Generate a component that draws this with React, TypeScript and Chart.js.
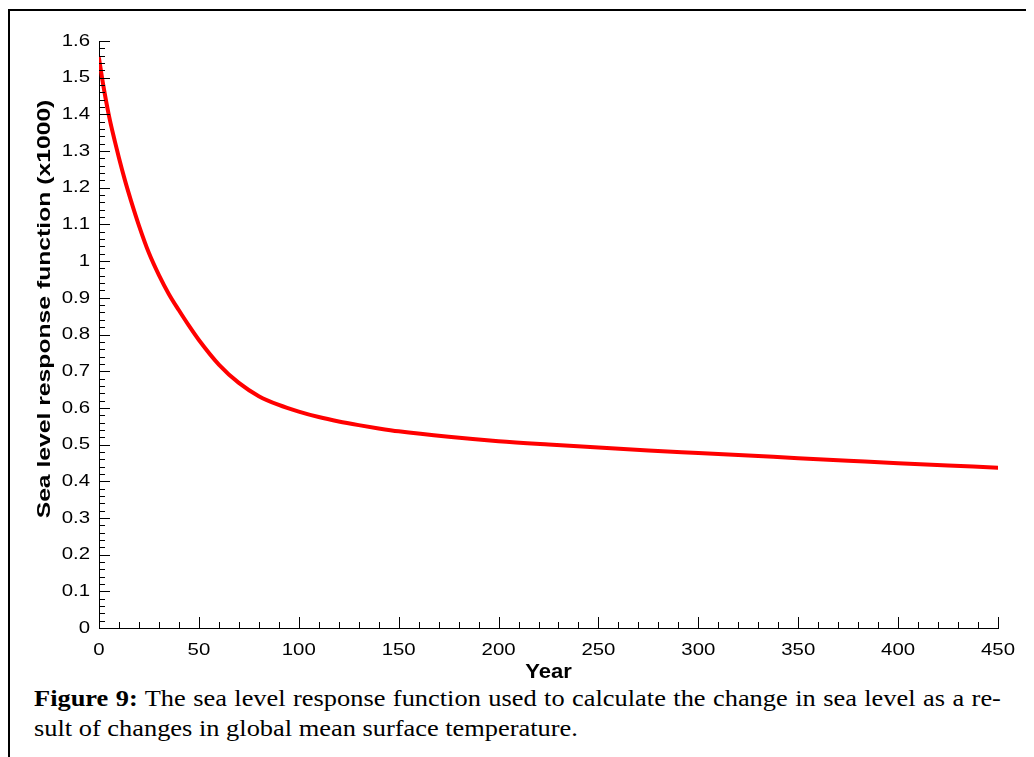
import React, { useEffect, useRef } from "react";
import { Chart, registerables } from "chart.js";

Chart.register(...registerables);

const years = [0, 2, 5, 8, 10, 13, 16, 20, 25, 30, 35, 40, 45, 50, 60, 70, 80, 90, 100, 110, 120, 130, 140, 150, 175, 200, 225, 250, 275, 300, 325, 350, 375, 400, 425, 450];
const responseValues = [1.553, 1.484, 1.396, 1.325, 1.281, 1.22, 1.165, 1.097, 1.022, 0.962, 0.91, 0.866, 0.824, 0.785, 0.718, 0.668, 0.632, 0.608, 0.59, 0.575, 0.563, 0.553, 0.544, 0.536, 0.521, 0.509, 0.5, 0.492, 0.484, 0.477, 0.47, 0.463, 0.456, 0.449, 0.443, 0.437];

const yTitle = "Sea level response function (x1000)";
const xTitle = "Year";
const xMin = 0, xMax = 450, xMajor = 50, xMinor = 10;
const yMin = 0, yMax = 1.6, yMajor = 0.1, yMinor = 0.02;

const FONT = "'Liberation Sans', Arial, sans-serif";
const TICK_STRETCH = 1.2;

function fmt(v: number) {
  return String(Math.round(v * 10) / 10);
}

const axisDecor = {
  id: "axisDecor",
  afterDraw(chart: any) {
    const ctx = chart.ctx;
    const xs = chart.scales.x;
    const ys = chart.scales.y;
    const ca = chart.chartArea;
    ctx.save();
    ctx.strokeStyle = "#000";
    ctx.lineWidth = 1;
    ctx.beginPath();
    const ny = Math.round((yMax - yMin) / yMinor);
    const yEvery = Math.round(yMajor / yMinor);
    for (let i = 0; i <= ny; i++) {
      const v = yMin + i * yMinor;
      const py = Math.round(ys.getPixelForValue(v)) + 0.5;
      const len = i % yEvery === 0 ? 11 : 6;
      ctx.moveTo(ca.left, py);
      ctx.lineTo(ca.left + len, py);
    }
    const nx = Math.round((xMax - xMin) / xMinor);
    const xEvery = Math.round(xMajor / xMinor);
    for (let i = 0; i <= nx; i++) {
      const v = xMin + i * xMinor;
      const px = Math.round(xs.getPixelForValue(v)) + 0.5;
      const len = i % xEvery === 0 ? 11 : 6;
      ctx.moveTo(px, ca.bottom);
      ctx.lineTo(px, ca.bottom - len);
    }
    ctx.stroke();

    ctx.fillStyle = "#000";
    ctx.font = `17px ${FONT}`;
    ctx.textAlign = "right";
    ctx.textBaseline = "middle";
    for (const t of ys.ticks) {
      const py = ys.getPixelForValue(t.value);
      ctx.save();
      ctx.translate(ca.left - 9, py);
      ctx.scale(TICK_STRETCH, 1);
      ctx.fillText(fmt(t.value), 0, 0);
      ctx.restore();
    }
    ctx.textAlign = "center";
    ctx.textBaseline = "alphabetic";
    for (const t of xs.ticks) {
      const px = xs.getPixelForValue(t.value);
      ctx.save();
      ctx.translate(px, ca.bottom + 27);
      ctx.scale(TICK_STRETCH, 1);
      ctx.fillText(String(Math.round(t.value)), 0, 0);
      ctx.restore();
    }

    ctx.font = `bold 21px ${FONT}`;
    ctx.save();
    ctx.translate((ca.left + ca.right) / 2, 667);
    ctx.scale(1.05, 1);
    ctx.fillText(xTitle, 0, 0);
    ctx.restore();

    ctx.save();
    ctx.translate(40, 298);
    ctx.rotate(-Math.PI / 2);
    ctx.scale(1.3, 1);
    ctx.font = `bold 19px ${FONT}`;
    ctx.fillText(yTitle, 0, 0);
    ctx.restore();
    ctx.restore();
  },
};

function ChartView() {
  const ref = useRef<HTMLCanvasElement>(null);
  useEffect(() => {
    document.documentElement.style.overflow = "hidden";
    const canvas = ref.current!;
    const chart = new Chart(canvas, {
      type: "line",
      data: {
        datasets: [
          {
            data: years.map((x, i) => ({ x, y: responseValues[i] })),
            borderColor: "#ff0000",
            borderWidth: 4,
            pointRadius: 0,
            fill: false,
            cubicInterpolationMode: "monotone",
            borderCapStyle: "round",
            borderJoinStyle: "round",
          },
        ],
      },
      options: {
        responsive: false,
        animation: false,
        events: [],
        layout: { padding: { top: 30, right: 36, left: 0, bottom: 0 } },
        plugins: { legend: { display: false }, tooltip: { enabled: false }, title: { display: false } },
        scales: {
          x: {
            type: "linear",
            min: xMin,
            max: xMax,
            grid: { display: false, drawTicks: false },
            border: { display: true, color: "#000", width: 1 },
            ticks: { stepSize: xMajor, display: false },
            afterFit: (s: any) => {
              s.height = 53;
            },
          },
          y: {
            type: "linear",
            min: yMin,
            max: yMax,
            grid: { display: false, drawTicks: false },
            border: { display: true, color: "#000", width: 1 },
            ticks: { stepSize: yMajor, display: false },
            afterFit: (s: any) => {
              s.width = 89;
            },
          },
        },
      },
      plugins: [axisDecor],
    } as any);
    return () => chart.destroy();
  }, []);
  return <canvas ref={ref} width={1024} height={670} style={{ display: "block" }} />;
}

export default function App() {
  return (
    <div
      style={{
        marginTop: 1,
        borderTop: "2px solid #000",
        borderLeft: "2px solid #000",
        width: 1026,
        height: 760,
        boxSizing: "border-box",
        overflow: "hidden",
      }}
    >
      <ChartView />
      <div
        style={{
          marginTop: 2,
          marginLeft: 24,
          width: 879,
          transform: "scaleX(1.1)",
          transformOrigin: "0 0",
          fontFamily: "'Liberation Serif', 'Times New Roman', serif",
          fontSize: 24,
          lineHeight: "30px",
          color: "#000",
        }}
      >
        <div style={{ textAlign: "justify", textAlignLast: "justify", whiteSpace: "nowrap" as any }}>
          <b>Figure 9:</b> The sea level response function used to calculate the change in sea level as a re-
        </div>
        <div>sult of changes in global mean surface temperature.</div>
      </div>
    </div>
  );
}
